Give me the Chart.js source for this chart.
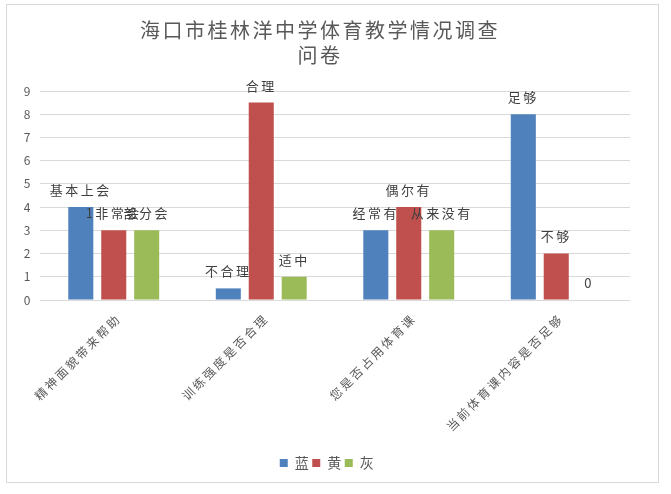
<!DOCTYPE html>
<html>
<head>
<meta charset="utf-8">
<script src="https://cdn.jsdelivr.net/npm/chart.js@4/dist/chart.umd.min.js"></script>
<style>
  html, body { margin: 0; padding: 0; background: #fff; }
  #wrap { position: relative; width: 671px; height: 494px; }
</style>
</head>
<body>
<div id="wrap"><canvas id="chart"></canvas></div>
<script>
/* ============== Data ============== */

const categories = ["精神面貌带来帮助", "训练强度是否合理", "您是否占用体育课", "当前体育课内容是否足够"];
const seriesNames = ["蓝", "黄", "灰"];

const blueValues = [4, 0.5, 3, 8];
const redValues = [3, 8.5, 4, 2];
const greenValues = [3, 1, 3, 0];

const blueLabels = ["基本上会", "不合理", "经常有", "足够"];
const redLabels = ["1非常会", "合理", "偶尔有", "不够"];
const greenLabels = ["部分会", "适中", "从来没有", "0"];

const yTicks = [0, 1, 2, 3, 4, 5, 6, 7, 8, 9];

const FONT = "'Noto Sans CJK SC', 'Noto Sans', sans-serif";
const TEXT = "#595959";
const SPACING = "2.5px"; // the office export spreads its glyphs a little

/* ============== Plugins ============== */

// canvas state is lost on resize, so put the spacing back before measuring and drawing
function spreadText(chart) {
    chart.ctx.letterSpacing = SPACING;
}

// light frame round the whole chart, like the office export
const framePlugin = {
    id: "frame",
    beforeLayout: spreadText,
    afterLayout(chart) {
        // legend sits a bit right of the plot centre in the original
        chart.legend.left += 8;
        chart.legend.right += 8;
    },
    beforeDraw(chart) {
        const ctx = chart.ctx;
        ctx.save();
        ctx.fillStyle = "#fff";
        ctx.fillRect(0, 0, chart.width, chart.height);
        ctx.strokeStyle = "#d9d9d9";
        ctx.lineWidth = 1;
        ctx.strokeRect(6.5, 4.5, 652, 478);
        ctx.restore();
        spreadText(chart);
    }
};

// writes the answer text above each bar
const barTextPlugin = {
    id: "barText",
    afterDatasetsDraw(chart) {
        const ctx = chart.ctx;
        ctx.save();
        ctx.font = "13px " + FONT;
        ctx.fillStyle = "#404040";
        ctx.textAlign = "center";
        ctx.textBaseline = "middle";
        chart.data.datasets.forEach((ds, i) => {
            const meta = chart.getDatasetMeta(i);
            meta.data.forEach((bar, j) => {
                ctx.fillText(ds.answers[j], bar.x, bar.y - 17);
            });
        });
        ctx.restore();
    }
};

/* ============== Chart ============== */

new Chart(document.getElementById("chart"), {
    type: "bar",
    data: {
        labels: categories,
        datasets: [
            { label: seriesNames[0], data: blueValues, answers: blueLabels, backgroundColor: "#4f81bd" },
            { label: seriesNames[1], data: redValues, answers: redLabels, backgroundColor: "#c0504d" },
            { label: seriesNames[2], data: greenValues, answers: greenLabels, backgroundColor: "#9bbb59" }
        ]
    },
    options: {
        responsive: true,
        maintainAspectRatio: false,
        animation: false,
        devicePixelRatio: 1,
        layout: { padding: { left: 10, right: 41, top: 10, bottom: 14 } },
        datasets: {
            bar: { barPercentage: 0.76, categoryPercentage: 0.67 }
        },
        plugins: {
            title: {
                display: true,
                text: ["海口市桂林洋中学体育教学情况调查", "问卷"],
                color: TEXT,
                font: { family: FONT, size: 20, weight: "normal", lineHeight: 1.25 },
                padding: { top: 8, bottom: 23 }
            },
            legend: {
                position: "bottom",
                labels: {
                    color: TEXT,
                    boxWidth: 8,
                    boxHeight: 8,
                    padding: 1,
                    font: { family: FONT, size: 14 }
                }
            },
            tooltip: { enabled: false }
        },
        scales: {
            x: {
                grid: { display: false },
                border: { display: false },
                ticks: {
                    color: TEXT,
                    minRotation: 45,
                    maxRotation: 45,
                    padding: 3,
                    labelOffset: 5,
                    font: { family: FONT, size: 12 }
                },
                afterFit(scale) { scale.height = 155; }
            },
            y: {
                min: 0,
                max: 9,
                afterBuildTicks(scale) { scale.ticks = yTicks.map(v => ({ value: v })); },
                grid: { color: "#d9d9d9", drawTicks: false },
                border: { display: false },
                ticks: {
                    color: TEXT,
                    padding: 7,
                    font: { family: FONT, size: 12 }
                },
                afterFit(scale) { scale.width = 30; }
            }
        }
    },
    plugins: [framePlugin, barTextPlugin]
});
</script>
</body>
</html>
